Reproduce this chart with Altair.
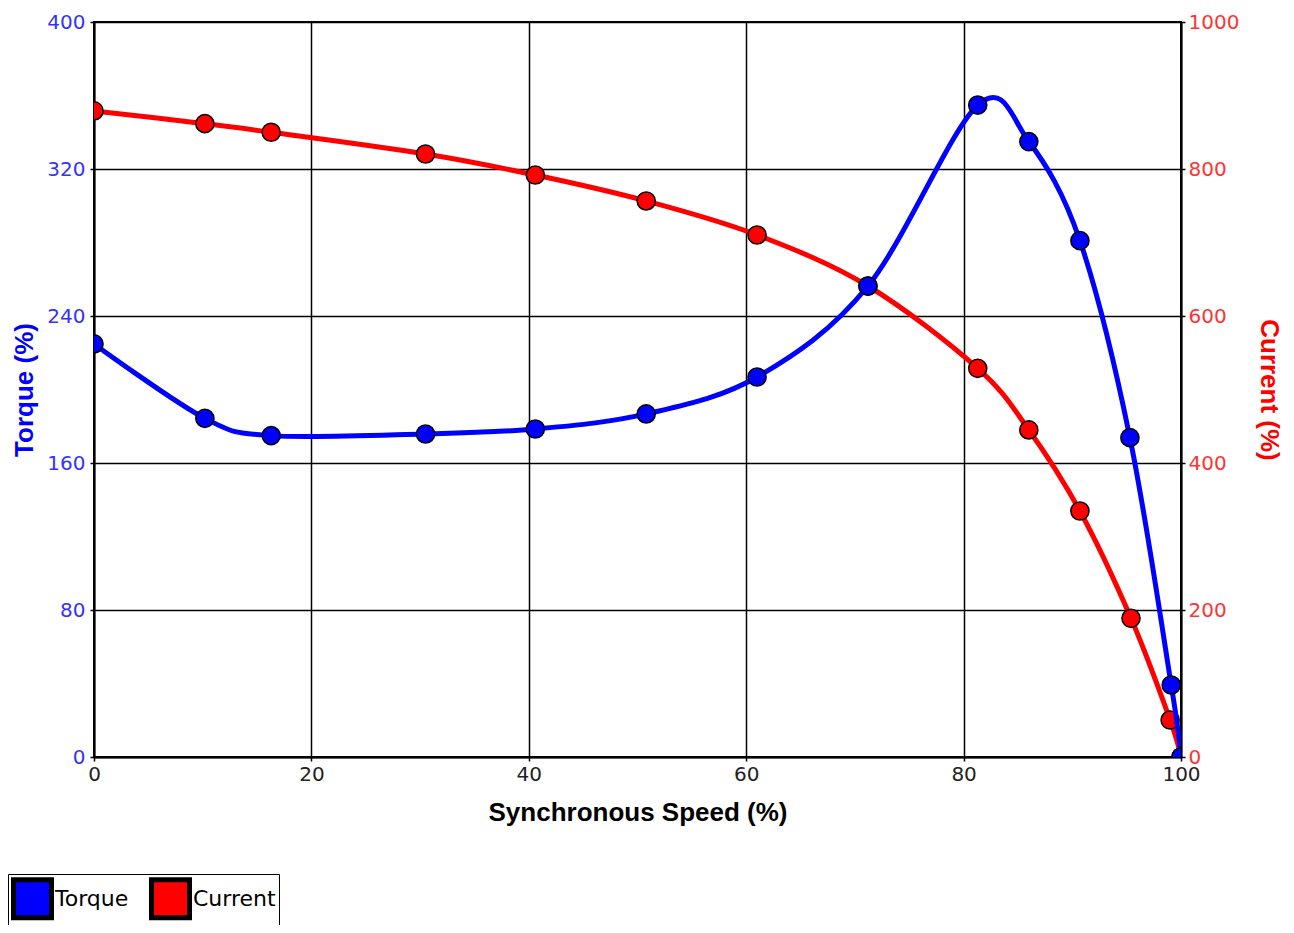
import altair as alt
import pandas as pd

# ---- data ----
speed_torque = [0, 10.2, 16.3, 30.5, 40.6, 50.8, 61.0, 71.2, 81.3, 86.0, 90.7, 95.3, 99.1, 100]
torque = [224.8, 184.3, 174.9, 175.8, 178.5, 186.7, 206.8, 256.3, 354.8, 334.9, 281.0, 173.8, 39.2, 0]

speed_current = [0, 10.2, 16.3, 30.5, 40.6, 50.8, 61.0, 71.2, 81.3, 86.0, 90.7, 95.4, 99.0, 100]
current = [879, 861.7, 850, 820.4, 791.8, 756.5, 710.2, 640.8, 528.8, 445, 334.7, 188.7, 50.3, 0]

series_names = ["Torque", "Current"]
series_colors = ["#0000ff", "#ff0000"]

x_ticks = [0, 20, 40, 60, 80, 100]
torque_ticks = [0, 80, 160, 240, 320, 400]
current_ticks = [0, 200, 400, 600, 800, 1000]

torque_df = pd.DataFrame({"speed": speed_torque, "value": torque, "series": "Torque"})
current_df = pd.DataFrame({"speed": speed_current, "value": current, "series": "Current"})

color_scale = alt.Scale(domain=series_names, range=series_colors)

x_axis = alt.Axis(values=x_ticks, title="Synchronous Speed (%)", grid=True,
                  labelFlush=False, labelPadding=3, titlePadding=15, labelColor="#222222")
x_enc = alt.X("speed:Q", scale=alt.Scale(domain=[0, 100], nice=False, zero=False), axis=x_axis)

legend = alt.Legend(title=None, orient="none", legendX=-86, legendY=852, direction="horizontal",
                    symbolType="square", symbolSize=1444, symbolStrokeColor="black",
                    symbolStrokeWidth=5, labelFont="DejaVu Sans", labelFontSize=22,
                    labelColor="black", labelOffset=1, columnPadding=12, padding=3,
                    strokeColor="black", fillColor="white")


def series_layer(df, y_enc, line_color):
    line = alt.Chart(df).mark_line(strokeWidth=5, interpolate="cardinal", clip=True,
                                   color=line_color).encode(
        x=x_enc, y=y_enc,
    )
    pts = alt.Chart(df).mark_circle(size=330, opacity=1, stroke="black", strokeWidth=1.5, clip=True).encode(
        x=x_enc, y=y_enc,
        color=alt.Color("series:N", scale=color_scale, legend=legend),
    )
    return alt.layer(line, pts)


torque_y = alt.Y("value:Q", scale=alt.Scale(domain=[0, 400], nice=False),
                 axis=alt.Axis(orient="left", values=torque_ticks, title="Torque (%)", grid=True,
                               labelColor="#3333ff", titleColor="#0000ff", labelFlush=False,
                               labelPadding=5, titlePadding=9))
current_y = alt.Y("value:Q", scale=alt.Scale(domain=[0, 1000], nice=False),
                  axis=alt.Axis(orient="right", values=current_ticks, title="Current (%)", grid=False,
                                format="d", labelColor="#ff3333", titleColor="#ff0000",
                                labelFlush=False, labelPadding=3, titlePadding=17))

current_layer = series_layer(current_df, current_y, series_colors[1])
torque_layer = series_layer(torque_df, torque_y, series_colors[0])

chart = (
    alt.layer(current_layer, torque_layer)
    .resolve_scale(y="independent")
    .properties(
        width=1087, height=735,
        autosize=alt.AutoSizeParams(type="none"),
        padding={"left": 86, "top": 14, "right": 105, "bottom": 168},
    )
    .configure_view(stroke="black", strokeWidth=2)
    .configure_axis(
        labelFont="DejaVu Sans", labelFontSize=20,
        titleFont="Liberation Sans", titleFontSize=26, titleFontWeight="bold",
        tickColor="black", tickSize=4, tickWidth=1.5,
        domainColor="black", domainWidth=2,
        gridColor="black", gridWidth=1.5, gridOpacity=1,
    )
)

chart.save("out.html", embed_options={"renderer": "svg", "actions": False})
